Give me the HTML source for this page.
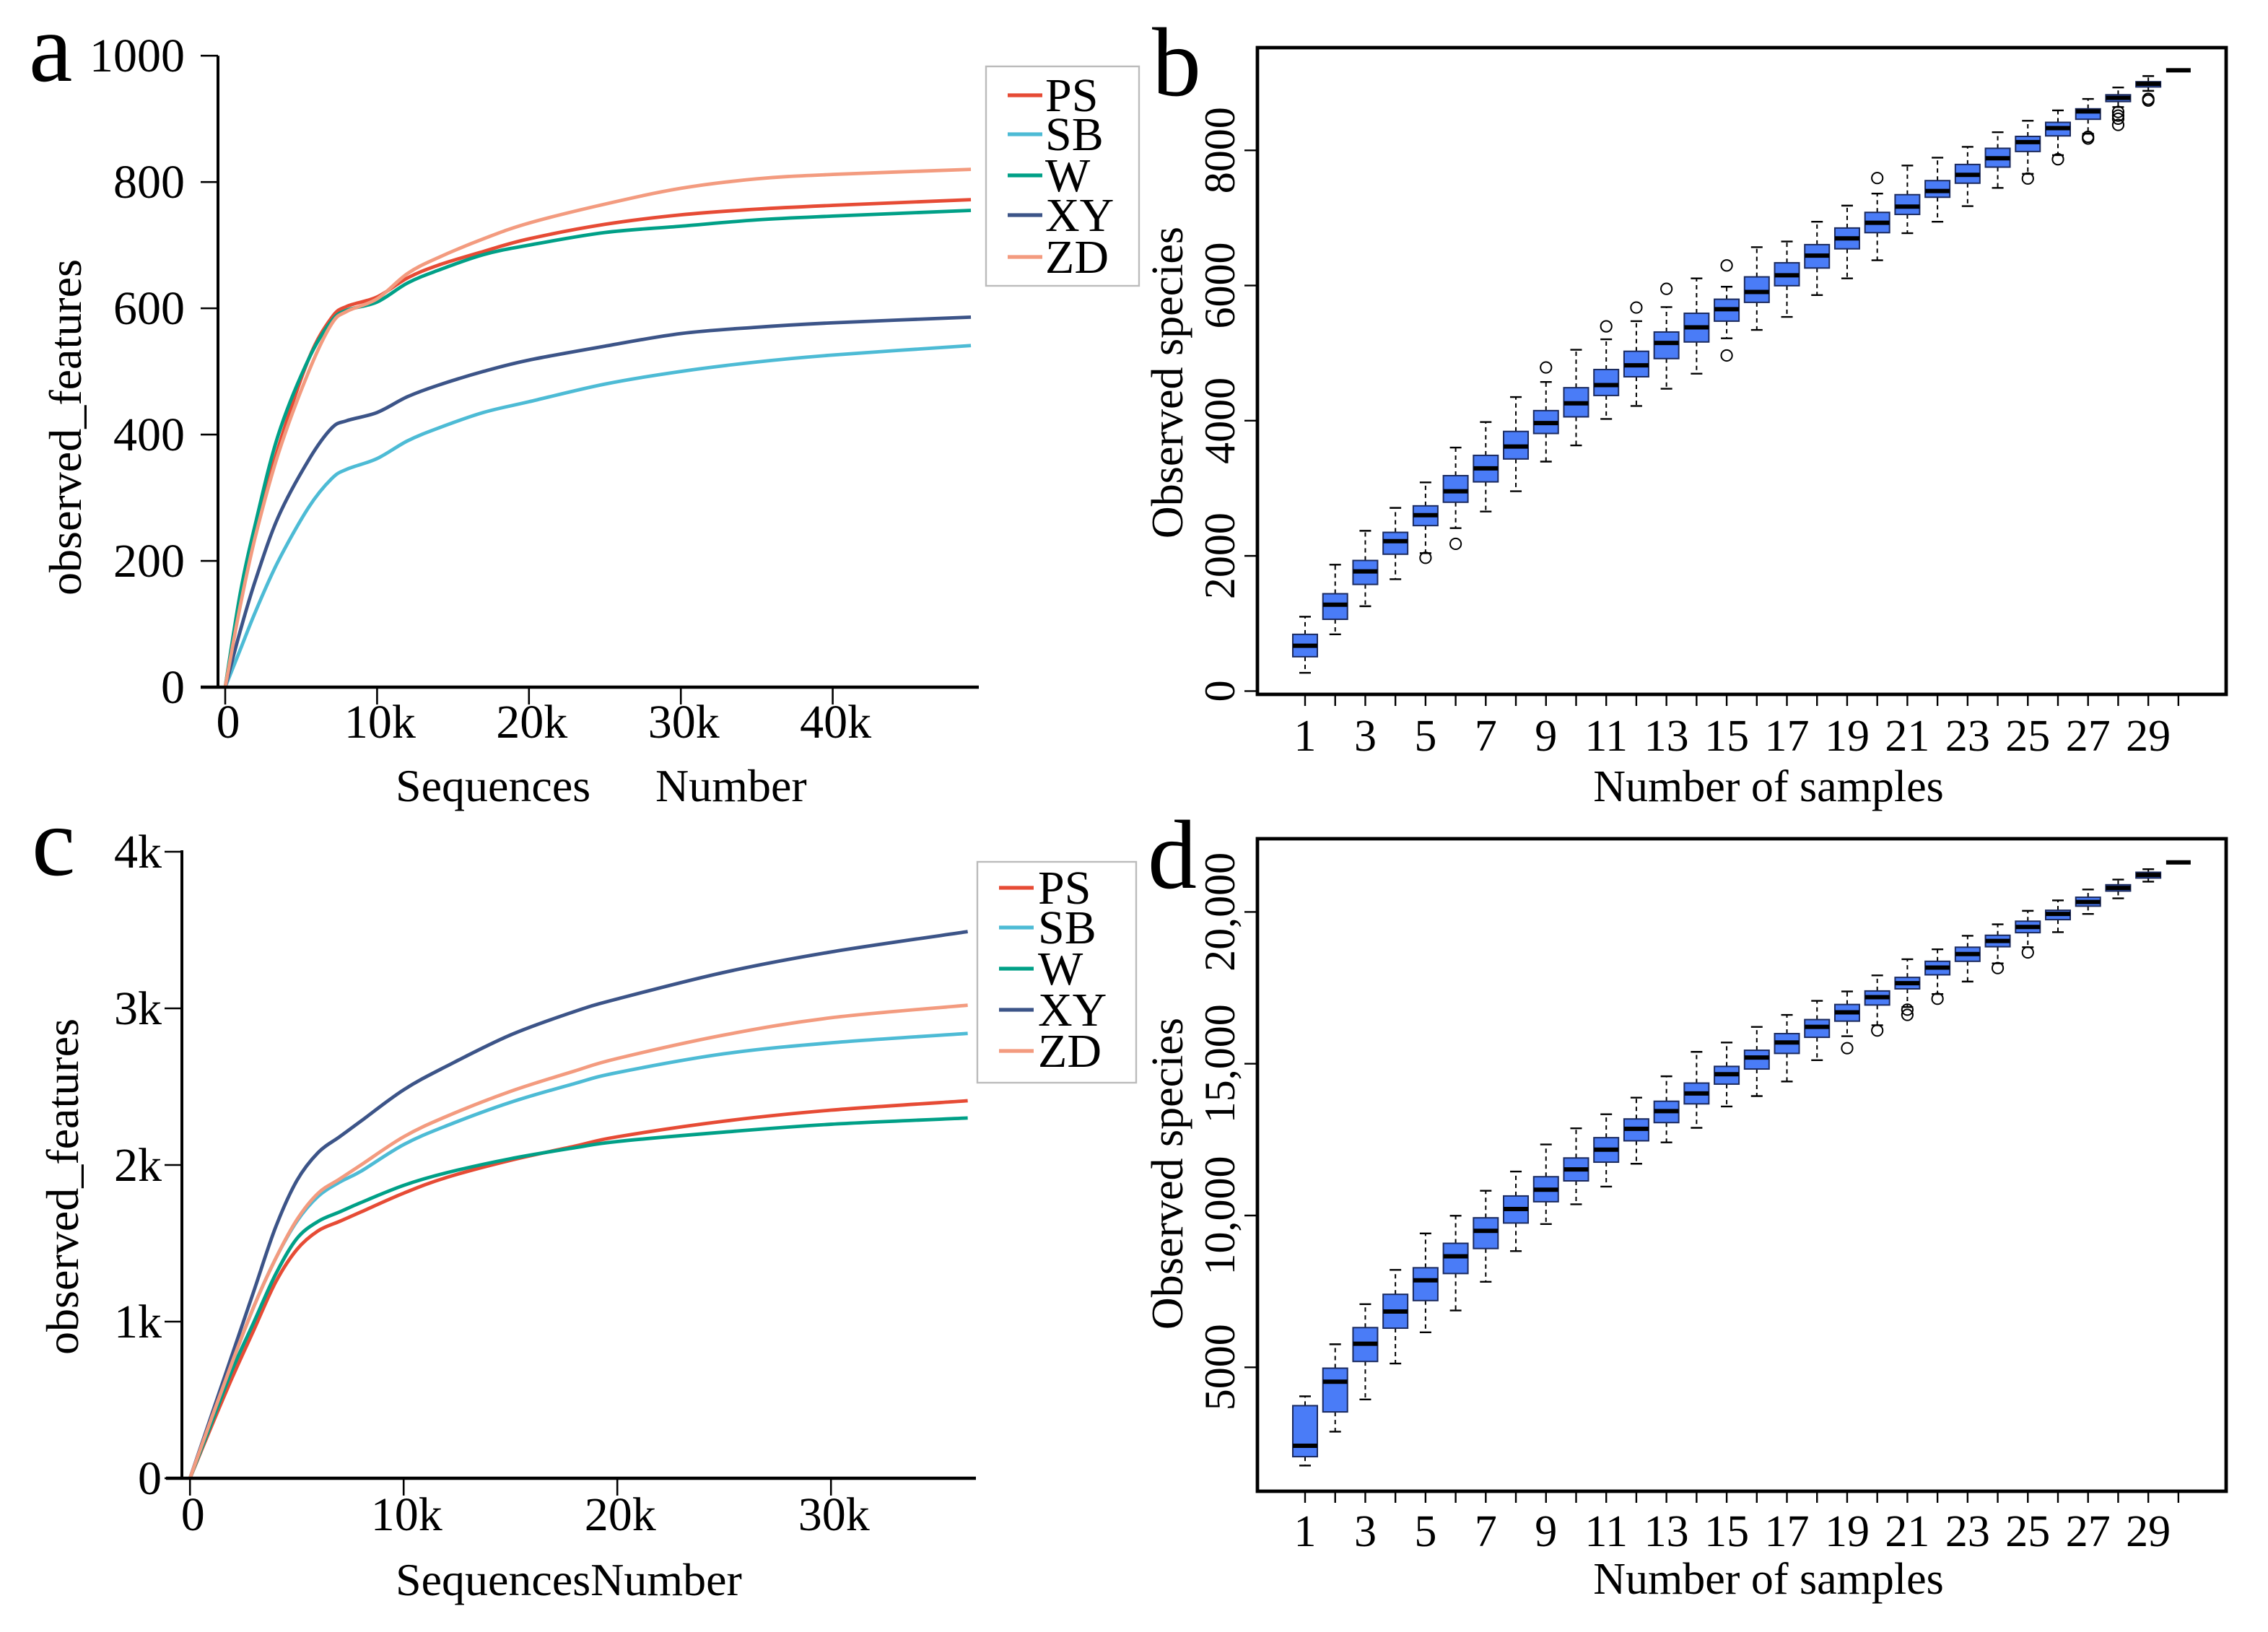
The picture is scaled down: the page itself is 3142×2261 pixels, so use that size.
<!DOCTYPE html>
<html><head><meta charset="utf-8"><style>
html,body{margin:0;padding:0;background:#fff;}
svg{display:block;}
text{font-family:"Liberation Serif",serif;fill:#000;}
</style></head><body>
<svg id="fig" xmlns="http://www.w3.org/2000/svg" width="3142" height="2261" viewBox="0 0 1571 1130.5">
<rect x="0" y="0" width="1571" height="1130.5" fill="#fff"/>
<g id="pa"></g>
<g id="pb"></g>
<g id="pc"></g>
<g id="pd"></g>
</svg>
<script>
// ---------- Panel a data ----------
const seriesNames = ["PS","SB","W","XY","ZD"];
const seriesColors = ["#e64b35","#4dbbd5","#00a087","#3c5488","#f39b7f"];
const aSeq = [0,1,2,3.5,5.5,7,8,10,12,14,17,20,25,30,35,40,49.1];
const aPS = [0,140,250,380,520,585,603,618,648,668,690,710,733,748,757,763,772];
const aSB = [0,60,120,200,285,330,345,362,390,410,435,452,480,500,515,526,541];
const aW  = [0,150,260,400,520,580,597,610,640,660,685,700,720,730,740,746,755];
const aXY = [0,90,170,270,360,410,422,435,460,478,500,518,540,560,570,577,586];
const aZD = [0,130,240,370,500,575,595,615,655,680,710,735,765,790,805,812,820];
const aYTicks = [0,200,400,600,800,1000];
const aYTickLabels = ["0","200","400","600","800","1000"];
const aXTicks = [0,10,20,30,40];
const aXTickLabels = ["0","10k","20k","30k","40k"];

// ---------- Panel c data ----------
const cSeq = [0,1,2,3,4,5,6,7,8,10,12,15,18,20,25,30,36.4];
const cPS = [0,330,650,950,1250,1460,1580,1640,1700,1820,1920,2030,2120,2180,2280,2350,2410];
const cSB = [0,380,750,1100,1400,1640,1800,1890,1960,2130,2250,2400,2520,2590,2710,2780,2840];
const cW  = [0,350,700,1000,1300,1530,1640,1700,1760,1870,1950,2040,2110,2150,2210,2260,2300];
const cXY = [0,400,800,1200,1600,1900,2080,2180,2280,2480,2630,2830,2980,3060,3230,3360,3490];
const cZD = [0,380,750,1100,1400,1650,1820,1910,2000,2180,2310,2470,2600,2680,2830,2940,3020];
const cYTicks = [0,1000,2000,3000,4000];
const cYTickLabels = ["0","1k","2k","3k","4k"];
const cXTicks = [0,10,20,30];
const cXTickLabels = ["0","10k","20k","30k"];

// ---------- Panel b data ----------
const bMed = [670,1278,1770,2217,2602,2956,3295,3618,3965,4257,4527,4819,5150,5381,5650,5905,6151,6443,6697,6928,7167,7398,7637,7883,8122,8329,8576,8776,8984,9184];
const bQ1  = [508,1062,1578,2025,2448,2794,3095,3434,3811,4057,4373,4650,4919,5165,5473,5751,5997,6259,6543,6782,7052,7306,7514,7752,7983,8214,8460,8722,8938,9184];
const bQ3  = [839,1440,1932,2348,2740,3187,3487,3841,4149,4488,4757,5027,5312,5589,5797,6128,6336,6605,6851,7082,7344,7552,7791,8030,8206,8414,8614,8822,9015,9184];
const bLo  = [270,839,1255,1655,2040,2410,2656,2956,3395,3634,4026,4218,4473,4696,5219,5343,5535,5858,6105,6374,6774,6944,7175,7444,7652,7929,8245,8640,8880,9184];
const bHi  = [1100,1870,2371,2710,3087,3603,3980,4350,4573,5050,5204,5473,5681,6105,5982,6567,6651,6944,7182,7360,7775,7891,8052,8268,8437,8591,8761,8930,9099,9184];
const bOut = [[],[],[],[],[1971],[2178],[],[],[4788],[],[5396],[5674],[5951],[],[6297,4965],[],[],[],[],[7590],[],[],[],[],[7583],[7868],[8175,8200],[8568,8514,8468,8376],[8761,8737],[]];
const bYTicks = [0,2000,4000,6000,8000];
const bYTickLabels = ["0","2000","4000","6000","8000"];

// ---------- Panel d data ----------
const dMed = [2417,4525,5776,6839,7867,8656,9496,10215,10850,11518,12169,12855,13438,14020,14654,15203,15700,16214,16694,17191,17654,18168,18614,19043,19505,19934,20328,20791,21220,21631];
const dQ1  = [2057,3531,5193,6290,7199,8090,8913,9753,10455,11141,11758,12461,13061,13678,14329,14826,15340,15871,16403,16934,17466,17929,18374,18854,19317,19746,20191,20688,21117,21631];
const dQ3  = [3737,4971,6308,7404,8279,9084,9924,10644,11278,11895,12564,13181,13764,14363,14912,15443,15992,16454,16951,17397,17843,18374,18837,19231,19694,20054,20483,20894,21306,21631];
const dLo  = [1765,2880,3942,5125,6153,6873,7816,8827,9718,10370,10952,11706,12409,12889,13592,13935,14414,15117,15906,16266,16866,17294,17706,18305,18837,19334,19934,20448,20997,21631];
const dHi  = [4045,5759,7079,8210,9410,9993,10815,11450,12341,12872,13335,13883,14586,15391,15699,16214,16609,17071,17380,17911,18442,18768,19214,19591,20036,20380,20740,21065,21408,21631];
const dOut = [[],[],[],[],[],[],[],[],[],[],[],[],[],[],[],[],[],[],[15511],[16094],[16780,16609],[17140],[],[18151],[18665],[],[],[],[],[]];
const dYTicks = [5000,10000,15000,20000];
const dYTickLabels = ["5000","10,000","15,000","20,000"];
const sampleLabels = ["1","3","5","7","9","11","13","15","17","19","21","23","25","27","29"];

const NS = "http://www.w3.org/2000/svg";
function mk(parent, tag, attrs, txt){
  const e = document.createElementNS(NS, tag);
  for (const k in attrs) e.setAttribute(k, attrs[k]);
  if (txt !== undefined) e.textContent = txt;
  parent.appendChild(e);
  return e;
}
function smooth(pts){
  let d = "M"+pts[0][0].toFixed(2)+","+pts[0][1].toFixed(2);
  for (let i=0;i<pts.length-1;i++){
    const p0=pts[Math.max(0,i-1)], p1=pts[i], p2=pts[i+1], p3=pts[Math.min(pts.length-1,i+2)];
    const c1=[p1[0]+(p2[0]-p0[0])/6, p1[1]+(p2[1]-p0[1])/6];
    const c2=[p2[0]-(p3[0]-p1[0])/6, p2[1]-(p3[1]-p1[1])/6];
    d += " C"+c1[0].toFixed(2)+","+c1[1].toFixed(2)+" "+c2[0].toFixed(2)+","+c2[1].toFixed(2)+" "+p2[0].toFixed(2)+","+p2[1].toFixed(2);
  }
  return d;
}

function linePanel(g, cfg){
  const {xs, ys, xScale, yScale, axisX, axisY, xAxisL, xAxisR, yAxisT, yTicks, yLabels, xTicks, xLabels, letter, letterPos, xTitles, xTitleY, yTitlePos, legend, tickLabelX, xLabelY} = cfg;
  ys.forEach((arr,si)=>{
    const pts = xs.map((x,i)=>[xScale(x), yScale(arr[i])]);
    const p = mk(g,"path",{d:smooth(pts),fill:"none",stroke:seriesColors[si],"stroke-width":2.4,"stroke-linejoin":"round"});
    
    
  });
  const ax = mk(g,"g",{});
  
  
  mk(ax,"line",{x1:axisX,y1:yAxisT,x2:axisX,y2:axisY,stroke:"#000","stroke-width":2});
  mk(ax,"line",{x1:xAxisL,y1:axisY,x2:xAxisR,y2:axisY,stroke:"#000","stroke-width":2.2});
  yTicks.forEach((v,i)=>{
    const y=yScale(v);
    mk(ax,"line",{x1:axisX-12,y1:y,x2:axisX,y2:y,stroke:"#000","stroke-width":1.3});
    const t = mk(ax,"text",{x:tickLabelX,y:y+11,"text-anchor":"end","font-size":33},yLabels[i]);
    
    
  });
  xTicks.forEach((v,i)=>{
    const x=xScale(v);
    mk(ax,"line",{x1:x,y1:axisY,x2:x,y2:axisY+12,stroke:"#000","stroke-width":1.3});
    const t = mk(ax,"text",{x:x+2,y:xLabelY,"text-anchor":"middle","font-size":33},xLabels[i]);
    
    
  });
  const lt = mk(g,"text",{x:letterPos[0],y:letterPos[1],"font-size":68},letter);
  
  
  xTitles.forEach(tt=>{
    const xt = mk(g,"text",{x:tt.x,y:xTitleY,"font-size":32},tt.t);
    
    
  });
  const yt = mk(g,"text",{x:0,y:0,"font-size":32,"text-anchor":"middle",transform:"translate("+yTitlePos[0]+","+yTitlePos[1]+") rotate(-90)",textLength:233,lengthAdjust:"spacingAndGlyphs"},"observed_features");
  
  
  const lg = mk(g,"g",{});
  
  
  mk(lg,"rect",{x:legend.x,y:legend.y,width:legend.w,height:legend.h,fill:"#fff",stroke:"#bbb","stroke-width":1.2});
  seriesNames.forEach((n,i)=>{
    const y = legend.ey[i];
    const e = mk(lg,"g",{});
    
    
    mk(e,"line",{x1:legend.lx1,y1:y,x2:legend.lx2,y2:y,stroke:seriesColors[i],"stroke-width":2.6});
    mk(e,"text",{x:legend.tx,y:y+11,"font-size":33},n);
  });
}

const aX = k => 156 + k*10.52;
const aY = v => 476 - v*0.4374;
linePanel(document.getElementById("pa"),{
  xs:aSeq, ys:[aPS,aSB,aW,aXY,aZD], xScale:aX, yScale:aY,
  axisX:151, axisY:476, xAxisL:139, xAxisR:678, yAxisT:38.6,
  yTicks:aYTicks, yLabels:aYTickLabels, xTicks:aXTicks, xLabels:aXTickLabels,
  tickLabelX:128, xLabelY:511,
  letter:"a", letterPos:[20,56], xTitles:[{x:274,t:"Sequences"},{x:454,t:"Number"}], xTitleY:555,
  yTitlePos:[56,296],
  legend:{x:683,y:46,w:106,h:152,ey:[66,93,121.5,149,178],lx1:698,lx2:722,tx:724}
});
const cX = k => 131.6 + k*14.8;
const cY = v => 1024 - v*0.1085;
linePanel(document.getElementById("pc"),{
  xs:cSeq, ys:[cPS,cSB,cW,cXY,cZD], xScale:cX, yScale:cY,
  axisX:126, axisY:1024, xAxisL:115, xAxisR:676, yAxisT:589,
  yTicks:cYTicks, yLabels:cYTickLabels, xTicks:cXTicks, xLabels:cXTickLabels,
  tickLabelX:112, xLabelY:1060,
  letter:"c", letterPos:[22,606], xTitles:[{x:274,t:"SequencesNumber"}], xTitleY:1105,
  yTitlePos:[54,822],
  legend:{x:677,y:597,w:110,h:153,ey:[615,642.5,671,699.5,728],lx1:692,lx2:716,tx:719}
});

function boxPanel(g, cfg){
  const {med,q1,q3,lo,hi,out,yScale,top,bottom,yTicks,yLabels,letter,letterPos,titleY,tickLabY,ytitleY} = cfg;
  const sx = i => 904 + i*20.86;
  const left=871, right=1542;
  med.forEach((m,i)=>{
    const x=sx(i);
    const bg = mk(g,"g",{});
    
    
    if (q3[i]-q1[i] > 1){
      mk(bg,"line",{x1:x,y1:yScale(q3[i]),x2:x,y2:yScale(hi[i]),stroke:"#000","stroke-width":1,"stroke-dasharray":"3,2.5"});
      mk(bg,"line",{x1:x,y1:yScale(q1[i]),x2:x,y2:yScale(lo[i]),stroke:"#000","stroke-width":1,"stroke-dasharray":"3,2.5"});
      mk(bg,"line",{x1:x-4,y1:yScale(hi[i]),x2:x+4,y2:yScale(hi[i]),stroke:"#000","stroke-width":1.2});
      mk(bg,"line",{x1:x-4,y1:yScale(lo[i]),x2:x+4,y2:yScale(lo[i]),stroke:"#000","stroke-width":1.2});
      mk(bg,"rect",{x:x-8.5,y:yScale(q3[i]),width:17,height:yScale(q1[i])-yScale(q3[i]),fill:"#4a7cf7",stroke:"#1b2a5e","stroke-width":1});
    }
    mk(bg,"line",{x1:x-8.5,y1:yScale(m),x2:x+8.5,y2:yScale(m),stroke:"#000","stroke-width":3});
    out[i].forEach(o=>{
      const c = mk(bg,"circle",{cx:x,cy:yScale(o),r:3.8,fill:"none",stroke:"#000","stroke-width":1});
      
      
    });
  });
  const fr = mk(g,"rect",{x:left,y:top,width:right-left,height:bottom-top,fill:"none",stroke:"#000","stroke-width":2.4});
  
  
  yTicks.forEach((v,i)=>{
    const y=yScale(v);
    mk(g,"line",{x1:left-9,y1:y,x2:left,y2:y,stroke:"#000","stroke-width":1.2});
    const t = mk(g,"text",{x:0,y:0,"font-size":30,"text-anchor":"middle",transform:"translate("+(left-16)+","+y+") rotate(-90)"},yLabels[i]);
    
    
  });
  for (let i=0;i<30;i++){
    mk(g,"line",{x1:sx(i),y1:bottom,x2:sx(i),y2:bottom+8,stroke:"#000","stroke-width":1.2});
  }
  sampleLabels.forEach((l,j)=>{
    const t = mk(g,"text",{x:sx(j*2),y:tickLabY,"font-size":31,"text-anchor":"middle"},l);
    
    
  });
  const xt = mk(g,"text",{x:1225,y:titleY,"font-size":31,"text-anchor":"middle"},"Number of samples");
  
  
  const yt = mk(g,"text",{x:0,y:0,"font-size":31,"text-anchor":"middle",transform:"translate(819,"+ytitleY+") rotate(-90)"},"Observed species");
  
  
  const lt = mk(g,"text",{x:letterPos[0],y:letterPos[1],"font-size":68},letter);
  
  
}
const bY = v => 478.7 - v*0.04682;
boxPanel(document.getElementById("pb"),{
  med:bMed,q1:bQ1,q3:bQ3,lo:bLo,hi:bHi,out:bOut,yScale:bY,top:33,bottom:481,
  yTicks:bYTicks,yLabels:bYTickLabels,letter:"b",letterPos:[798,66],titleY:555,tickLabY:520,ytitleY:265
});
const dY = v => 631.7 + (20000-v)*0.02103;
boxPanel(document.getElementById("pd"),{
  med:dMed,q1:dQ1,q3:dQ3,lo:dLo,hi:dHi,out:dOut,yScale:dY,top:581,bottom:1033,
  yTicks:dYTicks,yLabels:dYTickLabels,letter:"d",letterPos:[795,615],titleY:1104,tickLabY:1071,ytitleY:813
});
</script>
</body></html>
